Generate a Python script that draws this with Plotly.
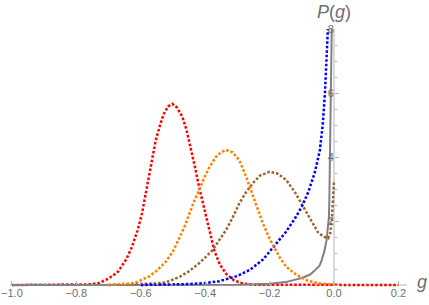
import plotly.graph_objects as go

# ---- data ----
red_g = [-1.0, -0.8, -0.76, -0.73, -0.70, -0.67, -0.645, -0.627, -0.61, -0.596, -0.585, -0.575, -0.565,
         -0.554, -0.54, -0.528, -0.515, -0.502, -0.488, -0.471, -0.458, -0.445, -0.432, -0.419, -0.408,
         -0.398, -0.385, -0.372, -0.355, -0.335, -0.31, -0.283, -0.25, 0.2]
red_p = [0, 0.0, 0.02, 0.06, 0.2, 0.42, 0.8, 1.2, 1.7, 2.24, 2.85, 3.45, 4.0, 4.5, 5.0, 5.36, 5.58, 5.66,
         5.55, 5.26, 4.85, 4.32, 3.7, 3.07, 2.6, 2.13, 1.6, 1.09, 0.65, 0.35, 0.14, 0.05, 0.01, 0.0]

orange_g = [-0.7, -0.62, -0.575, -0.55, -0.523, -0.50, -0.481, -0.465, -0.45, -0.435, -0.419, -0.403,
            -0.387, -0.367, -0.35, -0.335, -0.315, -0.294, -0.273, -0.252, -0.236, -0.221, -0.2, -0.184,
            -0.165, -0.148, -0.125, -0.106, -0.08, -0.044, 0.0]
orange_p = [0.0, 0.06, 0.26, 0.45, 0.72, 1.05, 1.45, 1.8, 2.2, 2.6, 2.95, 3.35, 3.68, 4.0, 4.15, 4.22,
            4.15, 3.9, 3.39, 2.76, 2.35, 1.93, 1.45, 1.15, 0.8, 0.57, 0.38, 0.26, 0.13, 0.05, 0.0]

brown_g = [-0.7, -0.6, -0.55, -0.523, -0.48, -0.45, -0.419, -0.398, -0.377, -0.356, -0.335, -0.315,
           -0.294, -0.273, -0.252, -0.23, -0.2, -0.175, -0.148, -0.12, -0.096, -0.08, -0.065, -0.05,
           -0.033, -0.025, -0.018, -0.012, -0.007, -0.003, 0.0]
brown_p = [0.0, 0.02, 0.05, 0.08, 0.25, 0.43, 0.68, 0.88, 1.09, 1.41, 1.72, 2.1, 2.55, 2.9, 3.18, 3.42,
           3.54, 3.48, 3.28, 2.88, 2.45, 2.15, 1.875, 1.65, 1.51, 1.47, 1.46, 1.6, 2.03, 2.66, 3.27]

blue_g = [-0.6, -0.5, -0.45, -0.4, -0.356, -0.3, -0.26, -0.22, -0.19, -0.15, -0.12, -0.1, -0.08, -0.06,
          -0.044, -0.035, -0.028, -0.023, -0.019]
blue_p = [0.0, 0.01, 0.03, 0.06, 0.12, 0.28, 0.48, 0.8, 1.15, 1.65, 2.1, 2.45, 2.9, 3.5, 4.2, 5.0, 6.0,
          7.0, 8.0]

gray_g = [-1.0, -0.4, -0.3, -0.2, -0.15, -0.1, -0.075, -0.06, -0.045, -0.038, -0.03, -0.023, -0.019,
          -0.016, -0.0145, -0.0125, -0.011, -0.009, -0.007]
gray_p = [0, 0.0, 0.01, 0.04, 0.09, 0.22, 0.32, 0.45, 0.6, 0.78, 1.05, 1.4, 1.75, 2.1, 2.6, 3.7, 5.0,
          6.5, 8.0]

x_ticks = [-1.0, -0.8, -0.6, -0.4, -0.2, 0.0, 0.2]
x_ticktext = ["\u22121.0", "\u22120.8", "\u22120.6", "\u22120.4", "\u22120.2", "0.0", "0.2"]
y_ticks = [2, 4, 6, 8]
y_ticktext = ["2", "4", "6", "8"]

# ---- figure ----
XMIN, XMAX = -1.006, 0.2267
YMIN, YMAX = -0.25, 8.0
AXC = "#b3b3b3"
LBL = "#6e6e6e"
DOT = "2.6px,1.9px"
LW = 2.5

def xp(g):
    return (g - XMIN) / (XMAX - XMIN)

def yp(v):
    return (v - YMIN) / (YMAX - YMIN)

fig = go.Figure()
fig.add_trace(go.Scatter(x=red_g, y=red_p, mode="lines",
                         line=dict(color="#ff0000", width=LW, dash=DOT)))
fig.add_trace(go.Scatter(x=gray_g, y=gray_p, mode="lines",
                         line=dict(color="#808080", width=2)))
fig.add_trace(go.Scatter(x=brown_g, y=brown_p, mode="lines",
                         line=dict(color="#996633", width=LW, dash=DOT)))
fig.add_trace(go.Scatter(x=blue_g, y=blue_p, mode="lines",
                         line=dict(color="#0000ff", width=LW, dash=DOT)))
fig.add_trace(go.Scatter(x=orange_g, y=orange_p, mode="lines",
                         line=dict(color="#ff8000", width=LW, dash=DOT)))

# axis lines
fig.add_shape(type="line", x0=XMIN, x1=XMAX, y0=0, y1=0, xref="x", yref="y",
              line=dict(color=AXC, width=1), layer="below")
fig.add_shape(type="line", x0=0, x1=0, y0=0, y1=YMAX, xref="x", yref="y",
              line=dict(color=AXC, width=1), layer="below")

fig.update_layout(
    width=429, height=305,
    margin=dict(l=10, r=22, t=29, b=12, autoexpand=False),
    paper_bgcolor="white", plot_bgcolor="white",
    showlegend=False,
    font=dict(family="Liberation Sans, Arial, sans-serif", size=11, color=LBL),
    xaxis=dict(range=[XMIN, XMAX], anchor="free", position=yp(0), automargin=False,
               showgrid=False, zeroline=False, showline=False,
               tickmode="array", tickvals=x_ticks, ticktext=x_ticktext,
               ticks="inside", ticklen=4, tickcolor=AXC, tickwidth=1,
               minor=dict(tickmode="linear", tick0=0, dtick=0.05, ticks="inside",
                          ticklen=2.5, tickcolor=AXC, showgrid=False),
               tickfont=dict(size=11, color=LBL)),
    yaxis=dict(range=[YMIN, YMAX], anchor="free", position=xp(0), automargin=False,
               showgrid=False, zeroline=False, showline=False,
               tickmode="array", tickvals=y_ticks, ticktext=y_ticktext,
               ticks="inside", ticklen=4, tickcolor=AXC, tickwidth=1,
               minor=dict(tickmode="linear", tick0=0, dtick=0.5, ticks="inside",
                          ticklen=2.5, tickcolor=AXC, showgrid=False),
               tickfont=dict(size=11, color=LBL)),
    annotations=[
        dict(text="<i>P</i>(<i>g</i>)", x=xp(0), y=yp((285 - 12) / 32), xref="paper", yref="paper",
             showarrow=False, font=dict(size=18, color=LBL), xanchor="center", yanchor="middle"),
        dict(text="<i>g</i>", x=xp((422 - 334) / 322), y=yp(0.1), xref="paper", yref="paper",
             showarrow=False, font=dict(size=18, color=LBL), xanchor="center", yanchor="middle"),
    ],
)

fig.write_html("out.html", config={"displayModeBar": False},
               post_script="document.body.style.margin='0px';document.body.style.padding='0px';")
